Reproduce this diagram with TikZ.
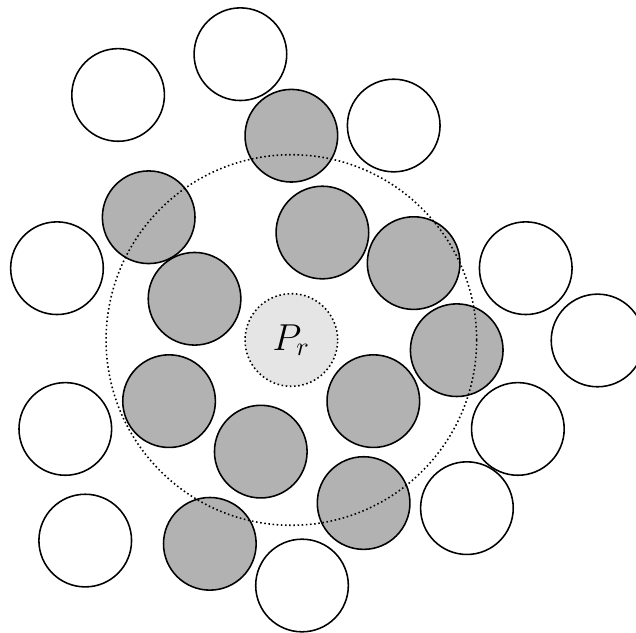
\documentclass[tikz,border=0pt]{standalone}
\usepackage{tikz}

\begin{document}
\begin{tikzpicture}[x=0.625cm,y=0.625cm,semithick,
  outer/.style={draw,fill=white},
  inner/.style={draw,fill=black!30},
  reach/.style={densely dotted}]
\useasboundingbox(-6.29,-6.31)rectangle(7.44,7.34);
% particles outside the range
\foreach \x/\y in {-3.74/5.29,-1.10/6.17,2.21/4.63,-5.06/1.55,5.06/1.55,6.61/-0.01,
  -4.88/-1.92,4.89/-1.92,-4.45/-4.33,3.79/-3.63,0.23/-5.30}
  \draw[outer](\x,\y)circle(1);
% particles inside the range
\foreach \x/\y in {0/4.41,-3.08/2.65,0.67/2.32,2.64/1.66,-2.09/0.89,3.57/-0.22,
  -2.64/-1.32,1.77/-1.32,-0.66/-2.41,1.56/-3.52,-1.76/-4.40}
  \draw[inner](\x,\y)circle(1);
\draw[reach,fill=black!10](0,0)circle(1);
\node(pr)at(0,0){\Large$P_r$};
\draw[reach](pr.center)circle(4);
\end{tikzpicture}
\end{document}
